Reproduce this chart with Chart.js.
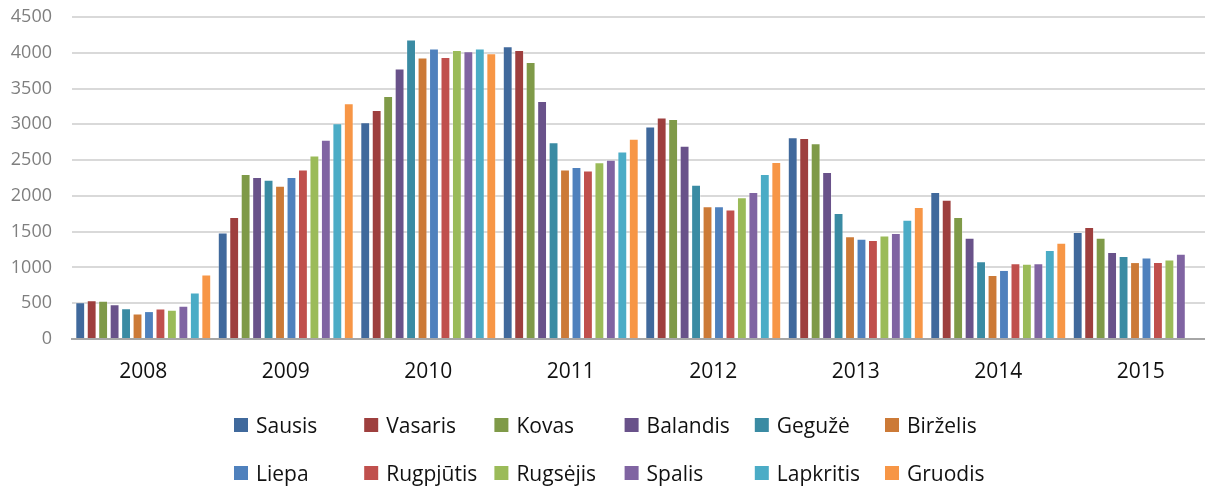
<!DOCTYPE html>
<html>
<head>
<meta charset="utf-8">
<script src="https://cdn.jsdelivr.net/npm/chart.js@4"></script>
<style>
  html, body { margin: 0; padding: 0; background: #ffffff; overflow: hidden; }
  #wrap { width: 1212px; height: 486px; }
</style>
</head>
<body>
<div id="wrap"><canvas id="myBarChart" width="1212" height="486"></canvas></div>
<script>
"use strict";

// Years on the x axis
const years = ["2008", "2009", "2010", "2011", "2012", "2013", "2014", "2015"];

// Month names (one series per month)
const months = ["Sausis", "Vasaris", "Kovas", "Balandis", "Gegužė", "Birželis",
	"Liepa", "Rugpjūtis", "Rugsėjis", "Spalis", "Lapkritis", "Gruodis"];

// Values per month, one for each year (2015 has no data for the last two months)
const sausis = [515, 1490, 3030, 4090, 2970, 2820, 2055, 1495];
const vasaris = [540, 1705, 3200, 4040, 3095, 2810, 1945, 1565];
const kovas = [535, 2305, 3395, 3870, 3075, 2735, 1705, 1415];
const balandis = [485, 2265, 3780, 3325, 2700, 2335, 1415, 1215];
const geguze = [430, 2225, 4185, 2750, 2155, 1760, 1085, 1160];
const birzelis = [355, 2140, 3935, 2370, 1855, 1435, 895, 1075];
const liepa = [390, 2265, 4060, 2405, 1855, 1400, 965, 1140];
const rugpjutis = [425, 2370, 3940, 2355, 1810, 1385, 1060, 1075];
const rugsejis = [410, 2565, 4040, 2470, 1980, 1445, 1050, 1110];
const spalis = [465, 2785, 4020, 2505, 2055, 1480, 1060, 1190];
const lapkritis = [650, 3015, 4060, 2620, 2305, 1665, 1245, null];
const gruodis = [900, 3295, 3995, 2800, 2475, 1845, 1345, null];

const monthValues = [sausis, vasaris, kovas, balandis, geguze, birzelis,
	liepa, rugpjutis, rugsejis, spalis, lapkritis, gruodis];

const colors = ["#40699C", "#9E3F3E", "#7F9A48", "#69528A", "#3A8BA3", "#CC7A37",
	"#4F81BD", "#C0504D", "#9BBB59", "#8064A2", "#4BACC6", "#F79646"];

// Legend drawn in a fixed grid, 6 columns x 2 rows, like the original
const gridLegend = {
	id: "gridLegend",
	afterDraw(chart) {
		const ctx = chart.ctx;
		ctx.save();
		ctx.font = "21px 'Open Sans', sans-serif";
		ctx.textBaseline = "alphabetic";
		ctx.textAlign = "left";
		chart.data.datasets.forEach(function (ds, i) {
			const col = i % 6;
			const row = Math.floor(i / 6);
			const x = 234 + col * 130.2;
			const y = row === 0 ? 418 : 466;
			ctx.fillStyle = ds.backgroundColor;
			ctx.fillRect(x, y, 14, 14);
			ctx.fillStyle = "#111111";
			ctx.fillText(ds.label, x + 22, y + 15);
		});
		ctx.restore();
	},
};

function generateBarChart() {
	const ctx = document.getElementById("myBarChart");

	const datasets = months.map(function (month, i) {
		return {
			label: month,
			data: monthValues[i],
			backgroundColor: colors[i],
			borderColor: "rgba(255,255,255,0.3)",
			borderWidth: 1,
			barPercentage: 0.86,
			categoryPercentage: 0.965,
		};
	});

	new Chart(ctx, {
		type: "bar",
		data: {
			labels: years,
			datasets: datasets,
		},
		options: {
			responsive: false,
			animation: false,
			devicePixelRatio: 1,
			layout: {
				padding: { top: 17, bottom: 87, left: 0, right: 0 },
			},
			plugins: {
				legend: { display: false },
				tooltip: { enabled: false },
			},
			scales: {
				x: {
					grid: { display: false },
					border: { display: true, color: "#a6a6a6", width: 2 },
					ticks: {
						color: "#111111",
						font: { family: "'Open Sans', sans-serif", size: 21 },
						padding: 12,
					},
					afterFit: function (scale) {
						scale.height = 60;
					},
				},
				y: {
					min: 0,
					max: 4500,
					ticks: {
						stepSize: 500,
						color: "#7f7f7f",
						font: { family: "'Open Sans', sans-serif", size: 18 },
						padding: 20,
						callback: function (value) {
							return String(value);
						},
					},
					grid: { color: "#d9d9d9", lineWidth: 2, drawTicks: false },
					border: { display: false },
					afterFit: function (scale) {
						scale.width = 72;
						// keep the tick padding from pushing the plot area down
						scale.paddingTop = 0;
						scale.paddingBottom = 0;
					},
				},
			},
		},
		plugins: [gridLegend],
	});
}

generateBarChart();
</script>
</body>
</html>
